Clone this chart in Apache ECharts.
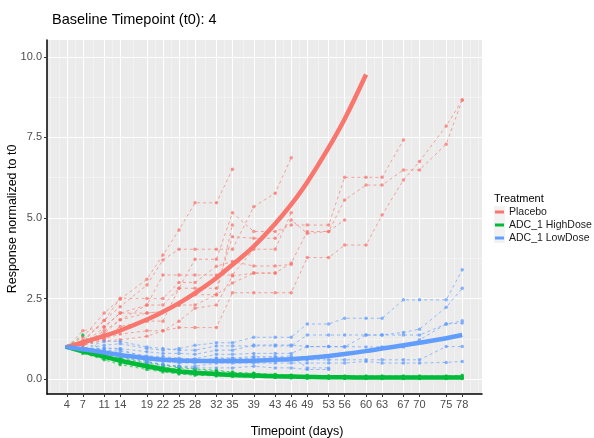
<!DOCTYPE html>
<html><head><meta charset="utf-8">
<script src="https://cdn.jsdelivr.net/npm/echarts@6/dist/echarts.min.js"></script>
<style>html,body{margin:0;padding:0;background:#fff}#c{width:594px;height:438px}</style>
</head><body><div id="c"></div>
<script>
const days = [4,7,11,14,19,22,25,28,32,35,39,43,46,49,53,56,60,63,67,70,75,78];
const xTickDays = [4,7,11,14,19,22,25,28,32,35,39,43,46,49,53,56,60,63,67,70,75,78];
const xMinorDays = [1,2.5,5.5,9,12.5,16.5,20.5,23.5,26.5,30,33.5,37,41,44.5,47.5,51,54.5,58,61.5,65,68.5,72.5,76.5,79.5,81];
const yTicks = [0,2.5,5,7.5,10];
const yMinor = [1.25,3.75,6.25,8.75];
const treatments = ['Placebo','ADC_1 HighDose','ADC_1 LowDose'];

// fitted trend per treatment (aligned with days)
const placeboFit = [1.0,1.14,1.34,1.51,1.85,2.09,2.36,2.67,3.14,3.55,4.12,4.82,5.42,6.11,7.18,8.07,9.45,null,null,null,null,null];
const highFit    = [1.0,0.86,0.70,0.57,0.40,0.31,0.24,0.20,0.16,0.13,0.11,0.09,0.08,0.07,0.06,0.06,0.05,0.05,0.05,0.05,0.05,0.05];
const lowFit     = [1.0,0.93,0.83,0.75,0.65,0.60,0.58,0.57,0.56,0.56,0.57,0.60,0.62,0.66,0.72,0.78,0.87,0.95,1.05,1.13,1.27,1.37];

// individual subjects (aligned with days)
const placeboSubjects = [
  [1,1.3,2.05,2.48,3.1,3.85,4.63,5.47,5.47,6.51],
  [1,1.2,1.82,2.25,2.92,3.7,4.03,4.03,4.03,4.03,5.35,5.77,6.87],
  [1,1.5,1.63,2.05,2.3,3.23,3.23,3.23,3.23,3.23,4.03,4.03,5.16],
  [1,1.1,1.42,1.84,2.3,2.3,2.82,3.72,3.72,5.16,4.58,4.58,4.78,4.78,4.78,6.26,6.26,6.26,7.42],
  [1,1.05,1.3,1.63,1.8,1.8,2.82,2.82,2.82,4.42,4.37,4.37,4.94,4.52,4.58,5.56,6.02,6.02,6.49,6.49,7.29,8.66],
  [1,1.05,1.25,1.4,1.5,1.5,1.6,1.6,1.6,2.68,2.68,2.68,2.68,3.77,3.77,4.16,4.16,5.09,6.18,6.75,7.85,8.66],
  [1,1.1,1.6,2.05,2.05,2.1,2.3,2.62,2.62,2.98,3.29,3.29,3.6,4.58,4.58,4.94],
  [1,1.15,1.82,2.51,2.5,2.5,3.0,3.0,3.5,3.65,3.51,3.51,3.56],
  [1,1.05,1.2,1.22,1.33,1.5,1.8,2.2,2.3,3.2,3.29,3.29],
  [1,1.08,1.5,1.84,2.05,2.1,2.3,2.3,2.62,4.78]
];
const highSubjects = [
  [1,1.37,0.8,0.65,0.5,0.42,0.35,0.3,0.25,0.2,0.18,0.15,0.12,0.1,0.1,0.08,0.08,0.08,0.08,0.08,0.08,0.1],
  [1,0.95,0.85,0.7,0.55,0.45,0.38,0.32,0.28,0.22,0.18,0.14,0.12,0.12,0.1,0.1,0.1,0.1,0.1,0.1,0.1,0.12],
  [1,0.9,0.75,0.6,0.42,0.35,0.28,0.22,0.18,0.15,0.12,0.1,0.08,0.07,0.06,0.06,0.04,0.04,0.04,0.04,0.04,0.04],
  [1,0.85,0.65,0.5,0.35,0.27,0.2,0.16,0.12,0.1,0.08,0.06,0.05,0.04,0.03,0.03,0.03,0.03,0.03,0.03,0.03,0.03],
  [1,0.8,0.6,0.45,0.3,0.22,0.16,0.12,0.1,0.08,0.06,0.05,0.04,0.03,0.03,0.02,0.02,0.02,0.02,0.02,0.02,0.02],
  [1,0.88,0.72,0.62,0.45,0.38,0.3,0.25,0.2,0.16,0.13,0.1,0.08,0.07,0.06,0.05,0.05,0.05,0.05,0.05,0.05,0.05]
];
const lowSubjects = [
  [1,0.96,1.05,1.1,0.95,0.9,0.95,1.05,1.13,1.13,1.3,1.3,1.3,1.71,1.71,1.89,1.89,1.89,2.46,2.46,2.46,3.39],
  [1,0.95,1.17,1.17,1.0,0.95,0.9,0.9,1.03,1.03,1.03,1.03,1.03,1.37,1.37,1.37,1.37,1.37,1.45,1.55,2.23,2.82],
  [1,0.92,0.97,0.95,0.85,0.8,0.8,0.77,0.9,0.9,1.06,1.06,1.06,1.01,1.01,1.0,1.37,1.37,1.37,1.37,1.71,1.81],
  [1,0.9,0.9,0.87,0.72,0.7,0.65,0.63,0.77,0.77,0.8,0.8,0.8,1.01,1.01,1.01,1.0,1.0,1.0,1.22,1.71,1.74],
  [1,0.9,0.85,0.75,0.6,0.55,0.5,0.5,0.63,0.63,0.66,0.66,0.66,0.6,0.6,0.6,0.6,0.6,0.6,0.6,1.01,1.01],
  [1,0.88,0.8,0.7,0.5,0.45,0.4,0.4,0.5,0.5,0.5,0.5,0.5,0.5,0.5,0.5,0.55,0.5,0.5,0.5,0.52,0.55],
  [1,0.93,0.95,0.93,0.65,0.6,0.55,0.55,0.66,0.66,0.7,0.7,0.72,0.35,0.35],
  [1,0.9,0.85,0.8,0.55,0.45,0.4,0.35,0.35,0.35,0.4,0.35,0.35,0.3,0.3]
];

const colors = {'Placebo':'#F8766D','ADC_1 HighDose':'#00BA38','ADC_1 LowDose':'#619CFF'};
const FONT = 'Liberation Sans, Arial, Helvetica, sans-serif';

function mk(arr){ return days.map((d,i)=> (arr[i]==null ? null : [d, arr[i]])).filter(p=>p); }

const series = [];
function addSubjects(list, name){
  list.forEach(arr=>{
    series.push({
      type:'line', name: name + ' subj', data: mk(arr), silent:true, animation:false,
      symbol:'circle', symbolSize:3.5, z:2,
      itemStyle:{color:colors[name], opacity:0.75},
      lineStyle:{color:colors[name], width:1, type:[3,3], opacity:0.65}
    });
  });
}
addSubjects(placeboSubjects,'Placebo');
addSubjects(highSubjects,'ADC_1 HighDose');
addSubjects(lowSubjects,'ADC_1 LowDose');
[['Placebo',placeboFit],['ADC_1 HighDose',highFit],['ADC_1 LowDose',lowFit]].forEach(([n,arr])=>{
  series.push({
    type:'line', name:n, data: mk(arr), smooth:0.4, symbol:'none', animation:false, z:3,
    itemStyle:{color:colors[n]}, lineStyle:{color:colors[n], width:4.5}
  });
});

const chart = echarts.init(document.getElementById('c'), null, {renderer:'canvas'});
chart.setOption({
  backgroundColor:'#fff',
  animation:false,
  title:{text:'Baseline Timepoint (t0): 4', left:47, top:7,
    textStyle:{fontFamily:FONT, fontSize:14.5, fontWeight:'normal', color:'#000'}},
  grid:{left:47, top:40, right:112, bottom:44, show:true, backgroundColor:'#EBEBEB', borderWidth:0},
  xAxis:[
    {type:'value', min:0.3, max:81.7,
      axisLine:{show:true, onZero:false, lineStyle:{color:'#000', width:1.5}},
      axisTick:{show:true, customValues:xTickDays, length:3, lineStyle:{color:'#333', width:1}},
      axisLabel:{customValues:xTickDays, color:'#4D4D4D', fontSize:11, margin:5, fontFamily:FONT},
      splitLine:{show:true, lineStyle:{color:'#fff', width:1}}},
    {type:'value', min:0.3, max:81.7, position:'bottom',
      axisLine:{show:false}, axisTick:{show:false, customValues:xMinorDays},
      axisLabel:{show:false, customValues:xMinorDays},
      splitLine:{show:true, lineStyle:{color:'#F7F7F7', width:0.6}}}
  ],
  yAxis:[
    {type:'value', min:-0.46, max:10.52,
      axisLine:{show:true, onZero:false, lineStyle:{color:'#000', width:1.5}},
      axisTick:{show:true, customValues:yTicks, length:3, lineStyle:{color:'#333', width:1}},
      axisLabel:{customValues:yTicks, color:'#4D4D4D', fontSize:11, margin:5, fontFamily:FONT,
        formatter:v=>Number(v).toFixed(1)},
      splitLine:{show:true, lineStyle:{color:'#fff', width:1.2}}},
    {type:'value', min:-0.46, max:10.52, position:'left',
      axisLine:{show:false}, axisTick:{show:false, customValues:yMinor},
      axisLabel:{show:false, customValues:yMinor},
      splitLine:{show:true, lineStyle:{color:'#F7F7F7', width:0.6}}}
  ],
  legend:{data:treatments, orient:'vertical', left:495, top:206, padding:0,
    itemWidth:9, itemHeight:3, itemGap:1, icon:'rect',
    textStyle:{fontFamily:FONT, fontSize:10.5, color:'#1a1a1a', lineHeight:12}},
  graphic:[
    {type:'rect', left:494, top:206, shape:{width:11, height:37}, style:{fill:'#F2F2F2'}, z:-1},
    {type:'text', left:494, top:193, style:{text:'Treatment', font:'11px '+FONT, fill:'#000'}},
    {type:'text', left:'center', top:425, x:0,
      style:{text:'Timepoint (days)', font:'12.5px '+FONT, fill:'#000'}},
    {type:'text', left:6, top:'middle', rotation:Math.PI/2, style:{text:'Response normalized to t0', font:'12.5px '+FONT, fill:'#000'}}
  ],
  series
});
</script></body></html>
